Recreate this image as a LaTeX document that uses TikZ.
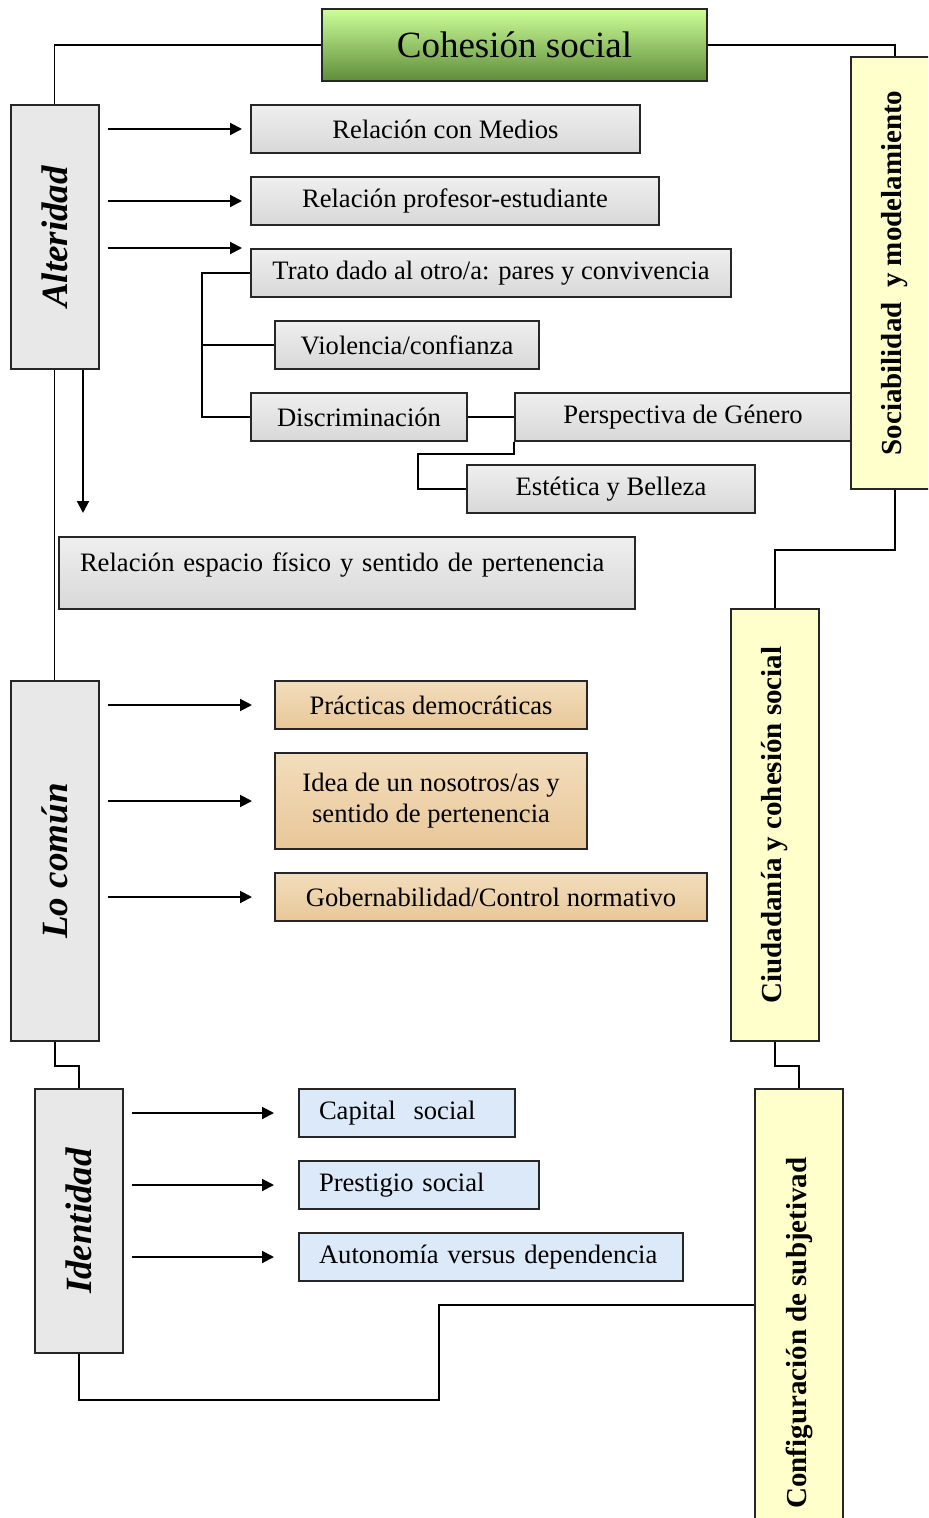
\documentclass[tikz,border=0pt]{standalone}
\usepackage{fontspec}
\setmainfont{Liberation Serif}
\usepackage{graphicx}
\usepackage{xcolor}
\usepackage{tikz}
\usetikzlibrary{arrows.meta}

\definecolor{greenTop}{HTML}{CCFF99}
\definecolor{greenBot}{HTML}{5E8C3A}
\definecolor{marbleA}{HTML}{EFEFEF}
\definecolor{marbleB}{HTML}{D8D8D8}
\definecolor{sideGray}{HTML}{E8E8E8}
\definecolor{tanA}{HTML}{F3DDBC}
\definecolor{tanB}{HTML}{E8C799}
\definecolor{skyBlue}{HTML}{DCE9F8}
\definecolor{paleYellow}{HTML}{FFFFCC}

\begin{document}
\begin{tikzpicture}[x=0.5pt, y=-0.5pt, >={Triangle[length=6pt,width=6pt]},
 line/.style={line width=0.8pt},
 arr/.style={->, line width=1pt, shorten <=4pt, shorten >=#1},
 box/.style={draw=black!85, line width=1pt, inner sep=0pt, minimum height=24pt, font=\fontsize{13.3}{15.5}\selectfont},
 marble/.style={box, top color=marbleA, bottom color=marbleB},
 tan/.style={box, top color=tanA, bottom color=tanB},
 sky/.style={box, fill=skyBlue, align=left, inner xsep=10pt},
 title/.style={box, minimum width=192.5pt, minimum height=36pt, top color=greenTop, bottom color=greenBot, font=\fontsize{18.5}{20}\selectfont},
 side/.style={draw=black!85, line width=1pt, fill=sideGray, minimum width=44pt, inner sep=0pt, font=\fontsize{18.5}{20}\selectfont\bfseries\itshape},
 pale/.style={draw=black!85, line width=1pt, fill=paleYellow, minimum width=44pt, inner sep=0pt, font=\fontsize{14.5}{16}\selectfont\bfseries}]

\useasboundingbox (0,0) rectangle (928,1518);
\clip (0,0) rectangle (928,1518);

\node[title] (cohesion) at (514.5,45) {Cohesión social};

\node[side, minimum height=132pt] (alteridad) at (54.5,237) {\rotatebox{90}{Alteridad}};
\node[side, minimum height=180pt] (comun) at (55,861) {\rotatebox{90}{Lo común}};
\node[side, minimum height=132pt] (identidad) at (79,1221) {\rotatebox{90}{Identidad}};

\node[marble, minimum width=194.5pt] (medios) at (445.5,129) {Relación con Medios};
\node[marble, minimum width=204pt] (profesor) at (455,201) {Relación profesor-estudiante};
\node[marble, minimum width=240pt] (trato) at (491,273) {Trato dado al otro/a: pares y convivencia};
\node[marble, minimum width=132pt] (violencia) at (407,345) {Violencia/confianza};
\node[marble, minimum width=108pt] (discrim) at (359,417) {Discriminación};
\node[marble, minimum width=168pt] (genero) at (683,417) {Perspectiva de Género};
\node[marble, minimum width=144pt] (estetica) at (611,489) {Estética y Belleza};
\node[marble, minimum height=36pt, text width=267pt, align=left, inner xsep=10.5pt, text depth=11pt] (espacio) at (347,573) {Relación espacio físico y sentido de pertenencia};

\node[tan, minimum width=156pt] (practicas) at (431,705) {Prácticas democráticas};
\node[tan, minimum width=156pt, minimum height=48pt, align=center] (nosotros) at (431,801) {Idea de un nosotros/as y\\sentido de pertenencia};
\node[tan, minimum width=216pt] (gobern) at (491,897) {Gobernabilidad/Control normativo};

\node[sky, text width=88pt] (capital) at (407,1113) {Capital~~social};
\node[sky, text width=100pt] (prestigio) at (419,1185) {Prestigio social};
\node[sky, text width=172pt] (autonomia) at (491,1257) {Autonomía versus dependencia};

\node[pale, minimum height=216pt] (sociab) at (895,273) {\rotatebox{90}{Sociabilidad~~y modelamiento}};
\node[pale, minimum height=216pt] (ciudadania) at (775,825) {\rotatebox{90}{Ciudadanía y cohesión social}};
\node[pale, minimum height=244pt] (subjetiv) at (799,1333) {\rotatebox{90}{Configuración de subjetivad}};

\coordinate (altdown) at (83,513);
\coordinate (bend) at (439,1305);

\draw[line] (cohesion.west) -| (alteridad.north);
\draw[line] (cohesion.east) -| (sociab.north);
\draw[line] (alteridad.south) -- (alteridad.south |- comun.north);
\draw[line] (comun.south) -- ++(0,24) -| (identidad.north);
\draw[line] (identidad.south) -- ++(0,46) -| (bend) -- (bend -| subjetiv.west);
\draw[line] (sociab.south) -- ++(0,60) -| (ciudadania.north);
\draw[line] (ciudadania.south) -- ++(0,24) -| (subjetiv.north);

\draw[line, line width=1pt] (trato.west) -- ++(-48,0) |- (discrim.west);
\draw[line, line width=1pt] (violencia.west) -- ++(-72,0);
\draw[line, line width=1pt] (discrim.east) -- (genero.west);
\draw[line] (genero.south west) -- ++(0,12) -- ++(-96,0) |- (estetica.west);

\draw[arr=4pt] (alteridad.east |- medios.west) -- (medios.west);
\draw[arr=4pt] (alteridad.east |- profesor.west) -- (profesor.west);
\draw[arr=4pt] (alteridad.east |- trato.north west) -- (trato.north west);
\draw[arr=0pt, shorten <=0pt] (alteridad.south -| altdown) -- (altdown);

\draw[arr=11pt] (comun.east |- practicas.west) -- (practicas.west);
\draw[arr=11pt] (comun.east |- nosotros.west) -- (nosotros.west);
\draw[arr=11pt] (comun.east |- gobern.west) -- (gobern.west);

\draw[arr=12pt] (identidad.east |- capital.west) -- (capital.west);
\draw[arr=12pt] (identidad.east |- prestigio.west) -- (prestigio.west);
\draw[arr=12pt] (identidad.east |- autonomia.west) -- (autonomia.west);
\end{tikzpicture}
\end{document}
